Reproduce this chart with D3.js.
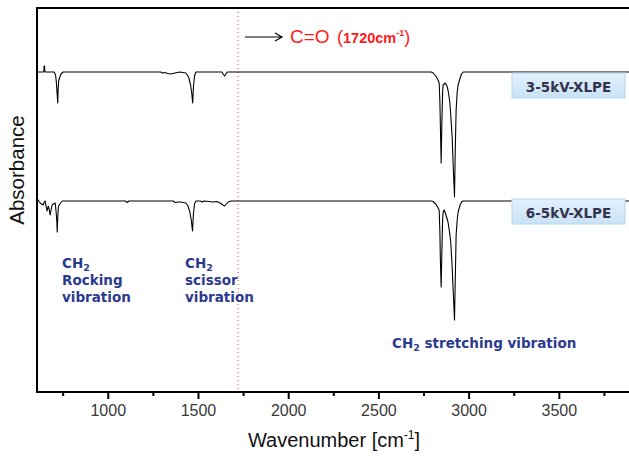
<!DOCTYPE html>
<html>
<head>
<meta charset="utf-8">
<script src="https://cdn.jsdelivr.net/npm/d3@7/dist/d3.min.js"></script>
<style>
  html, body { margin: 0; padding: 0; background: #fff; }
  svg { display: block; }
</style>
</head>
<body>
<svg id="chart" width="629" height="457"></svg>
<script>
// ---------- DATA ----------
const majorTicks = [1000, 1500, 2000, 2500, 3000, 3500];
const minorTicks = [750, 1250, 1750, 2250, 2750, 3250, 3750];
const carbonylWavenumber = 1720;
const seriesNames = ["3-5kV-XLPE", "6-5kV-XLPE"];

// [wavenumber (cm-1), signal (a.u.)]
const spectrum35kV = [
  [606, 320], [640, 320], [643, 320], [644, 326], [647, 326], [648, 321], [652, 320],
  [700, 320], [708, 317], [712, 310], [716, 300], [720, 289], [722, 302], [725, 311],
  [730, 314], [738, 318], [750, 320], [1290, 320], [1300, 319], [1312, 319.5],
  [1330, 318.5], [1345, 318], [1370, 319], [1395, 320], [1430, 319], [1445, 315],
  [1455, 308], [1462, 300], [1468, 289], [1472, 305], [1478, 316], [1486, 320],
  [1630, 320], [1638, 317.5], [1645, 316], [1652, 318], [1660, 320],
  [2790, 320], [2801, 319], [2815, 316], [2828, 312], [2834, 309], [2838, 290],
  [2841, 264], [2845, 229], [2849, 270], [2853, 300], [2856, 307], [2867, 309],
  [2877, 306], [2883, 302], [2893, 290], [2898, 277], [2906, 255], [2912, 225],
  [2919, 195], [2923, 240], [2928, 282], [2934, 300], [2939, 307], [2950, 314],
  [2958, 318], [2967, 320], [3900, 320]
];
const spectrum65kV = [
  [606, 192], [612, 192], [618, 190], [623, 189], [630, 188], [639, 187], [645, 190],
  [650, 191], [655, 186], [661, 181], [667, 186], [672, 183], [678, 177], [684, 183],
  [689, 187], [697, 188], [706, 189], [711, 180], [715, 170], [717, 160], [720, 175],
  [724, 186], [728, 187], [736, 189], [745, 191], [1095, 191], [1105, 189.5],
  [1115, 191], [1360, 191], [1371, 189.5], [1385, 190], [1400, 190], [1430, 189],
  [1442, 186], [1452, 180], [1460, 172], [1467, 161], [1472, 178], [1478, 188],
  [1486, 191], [1510, 191], [1520, 190], [1530, 191], [1560, 190.5], [1580, 190],
  [1600, 190.5], [1620, 189], [1635, 187], [1645, 186], [1655, 188], [1665, 190],
  [1680, 191], [2790, 191], [2801, 190.5], [2815, 188], [2828, 184], [2834, 182],
  [2838, 160], [2841, 130], [2845, 105], [2849, 140], [2853, 172], [2856, 180],
  [2862, 182], [2870, 178], [2883, 170], [2893, 158], [2898, 150], [2906, 125],
  [2912, 100], [2919, 72], [2923, 110], [2928, 157], [2934, 172], [2939, 180],
  [2950, 187], [2958, 190], [2967, 191], [3900, 191]
];

// ---------- LAYOUT ----------
const svg = d3.select("#chart");
const W = 629, H = 457;
const pLeft = 37, pTop = 8, pBottom = 392;

const x = d3.scaleLinear().domain([605, 3900]).range([pLeft, 631.5]);
const y = d3.scaleLinear().domain([0, 384]).range([pBottom, pTop]);

svg.append("rect").attr("width", W).attr("height", H).attr("fill", "#fff");

const defs = svg.append("defs");
const grad = defs.append("linearGradient").attr("id", "boxGrad")
  .attr("x1", 0).attr("y1", 0).attr("x2", 0).attr("y2", 1);
grad.append("stop").attr("offset", "0%").attr("stop-color", "#e3f1fc");
grad.append("stop").attr("offset", "100%").attr("stop-color", "#c8e2f6");

const clip = defs.append("clipPath").attr("id", "plotClip");
clip.append("rect").attr("x", pLeft).attr("y", pTop).attr("width", W - pLeft).attr("height", pBottom - pTop);

// carbonyl reference line
svg.append("line")
  .attr("x1", x(carbonylWavenumber)).attr("x2", x(carbonylWavenumber))
  .attr("y1", pTop).attr("y2", pBottom)
  .attr("stroke", "#e84a4a").attr("stroke-width", 1)
  .attr("stroke-dasharray", "1,3");

// spectra
const line = d3.line().x(d => x(d[0])).y(d => y(d[1]));
const plot = svg.append("g").attr("clip-path", "url(#plotClip)");
[spectrum35kV, spectrum65kV].forEach(s => {
  plot.append("path").datum(s).attr("d", line)
    .attr("fill", "none").attr("stroke", "#000").attr("stroke-width", 1.1)
    .attr("stroke-linejoin", "round");
});

// frame
svg.append("path")
  .attr("d", `M${W + 2},${pTop} H${pLeft} V${pBottom} H${W + 2}`)
  .attr("fill", "none").attr("stroke", "#000").attr("stroke-width", 2);

// x axis ticks
const axisG = svg.append("g").attr("transform", `translate(0,${pBottom})`);
axisG.selectAll(".major").data(majorTicks).enter().append("line")
  .attr("x1", d => x(d)).attr("x2", d => x(d)).attr("y1", 0).attr("y2", 7)
  .attr("stroke", "#000").attr("stroke-width", 2);
axisG.selectAll(".minor").data(minorTicks).enter().append("line")
  .attr("x1", d => x(d)).attr("x2", d => x(d)).attr("y1", 0).attr("y2", 4)
  .attr("stroke", "#000").attr("stroke-width", 2);
axisG.selectAll(".lbl").data(majorTicks).enter().append("text")
  .attr("x", d => x(d)).attr("y", 24)
  .attr("text-anchor", "middle")
  .attr("font-family", "Liberation Sans, Arial, sans-serif")
  .attr("font-size", 16).attr("fill", "#3a3a3a")
  .text(d => d);

// axis titles
const xt = svg.append("text").attr("x", 334).attr("y", 447)
  .attr("text-anchor", "middle")
  .attr("font-family", "Liberation Sans, Arial, sans-serif")
  .attr("font-size", 20).attr("fill", "#111");
xt.append("tspan").text("Wavenumber [cm");
xt.append("tspan").attr("font-size", 12).attr("dy", -8).text("-1");
xt.append("tspan").attr("dy", 8).text("]");

svg.append("text")
  .attr("transform", "translate(24,170) rotate(-90)")
  .attr("text-anchor", "middle")
  .attr("font-family", "Liberation Sans, Arial, sans-serif")
  .attr("font-size", 20.5).attr("fill", "#111")
  .text("Absorbance");

// series label boxes
const boxY = [73, 199];
seriesNames.forEach((n, i) => {
  const g = svg.append("g");
  g.append("rect").attr("x", 512).attr("y", boxY[i]).attr("width", 113).attr("height", 25)
    .attr("fill", "url(#boxGrad)").attr("stroke", "#b5d6f0").attr("stroke-width", 1);
  g.append("text").attr("x", 568.5).attr("y", boxY[i] + 18.5)
    .attr("text-anchor", "middle")
    .attr("font-family", "DejaVu Sans, Verdana, sans-serif")
    .attr("font-weight", "bold").attr("font-size", 13.5).attr("fill", "#33334d")
    .text(n);
});

// vibration annotations
const blue = "#2c3a8e";
const annSize = 13.5;
function ch2Label(xp, yp) {
  const t = svg.append("text").attr("x", xp).attr("y", yp)
    .attr("font-family", "DejaVu Sans, Verdana, sans-serif")
    .attr("font-weight", "bold").attr("font-size", annSize).attr("fill", blue);
  t.append("tspan").text("CH");
  t.append("tspan").attr("font-size", 9.5).attr("dy", 3).text("2");
  return t;
}
function multi(xp, yp, lines) {
  lines.forEach((l, i) => {
    svg.append("text").attr("x", xp).attr("y", yp + 17 * (i + 1))
      .attr("font-family", "DejaVu Sans, Verdana, sans-serif")
      .attr("font-weight", "bold").attr("font-size", annSize).attr("fill", blue)
      .text(l);
  });
}
ch2Label(62, 268);
multi(62, 268, ["Rocking", "vibration"]);
ch2Label(185, 268);
multi(185, 268, ["scissor", "vibration"]);
const st = ch2Label(392, 348);
st.append("tspan").attr("font-size", annSize).attr("dy", -3).text(" stretching vibration");

// C=O annotation
svg.append("path").attr("d", "M245,37 H282 M275,33 L282,37 L275,41")
  .attr("fill", "none").attr("stroke", "#000").attr("stroke-width", 1.2);
svg.append("text").attr("x", 290).attr("y", 43)
  .attr("font-family", "Liberation Sans, Arial, sans-serif")
  .attr("font-size", 19).attr("fill", "#ff1a1a").text("C=O");
const co = svg.append("text").attr("x", 337).attr("y", 43)
  .attr("font-family", "Liberation Sans, Arial, sans-serif")
  .attr("fill", "#ff1a1a");
co.append("tspan").attr("font-size", 18).text("(");
co.append("tspan").attr("font-size", 14.5).attr("font-weight", "bold").text("1720cm");
co.append("tspan").attr("font-size", 9).attr("font-weight", "bold").attr("dy", -7).text("-1");
co.append("tspan").attr("font-size", 18).attr("dy", 7).text(")");
</script>
</body>
</html>
